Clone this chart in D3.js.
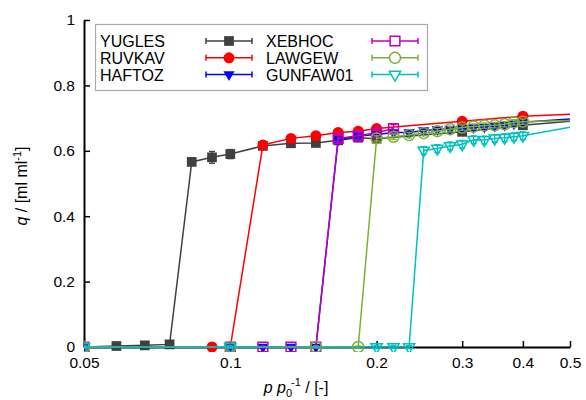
<!DOCTYPE html>
<html>
<head>
<meta charset="utf-8">
<script src="https://cdn.jsdelivr.net/npm/d3@7"></script>
<style>
  body { margin: 0; background: #fff; }
  svg { font-family: "Liberation Sans", Arial, sans-serif; }
  .axis text { font-size: 15.5px; fill: #000; }
</style>
</head>
<body>
<svg id="area" width="586" height="400"></svg>
<script>
// tick values
const xTicks = [0.05, 0.1, 0.2, 0.3, 0.4, 0.5];
const yTicks = [0, 0.2, 0.4, 0.6, 0.8, 1];

const seriesNames = ["YUGLES", "RUVKAV", "HAFTOZ", "XEBHOC", "LAWGEW", "GUNFAW01"];

// p/p0 values, loading q and error per series
const yuglesP   = [0.05, 0.0583, 0.0667, 0.075, 0.0833, 0.0917, 0.1, 0.1167, 0.1333, 0.15, 0.1667, 0.1833, 0.2, 0.3, 0.4];
const yuglesQ   = [0, 0.003, 0.005, 0.008, 0.566, 0.580, 0.590, 0.615, 0.623, 0.624, 0.632, 0.640, 0.637, 0.658, 0.678];
const yuglesErr = [0.003, 0.004, 0.004, 0.005, 0.010, 0.018, 0.014, 0.008, 0.006, 0.006, 0.006, 0.006, 0.006, 0.006, 0.006];

const ruvkavP   = [0.05, 0.0917, 0.1, 0.1167, 0.1333, 0.15, 0.1667, 0.1833, 0.2, 0.3, 0.4];
const ruvkavQ   = [0, 0, 0, 0.618, 0.638, 0.646, 0.656, 0.660, 0.668, 0.690, 0.706];
const ruvkavErr = [0.003, 0.003, 0.003, 0.012, 0.008, 0.006, 0.006, 0.006, 0.006, 0.006, 0.006];

const haftozP   = [0.05, 0.1, 0.1167, 0.1333, 0.15, 0.1667, 0.1833, 0.2, 0.2167, 0.2333, 0.25, 0.2667, 0.2833, 0.3, 0.3167, 0.3333, 0.35, 0.3667, 0.3833, 0.4];
const haftozQ   = [0, 0, 0, 0, 0, 0.634, 0.645, 0.650, 0.656, 0.656, 0.662, 0.665, 0.667, 0.669, 0.671, 0.673, 0.676, 0.679, 0.683, 0.687];
const haftozErr = [0.003, 0.003, 0.003, 0.003, 0.003, 0.008, 0.006, 0.006, 0.006, 0.006, 0.006, 0.006, 0.006, 0.006, 0.006, 0.006, 0.006, 0.006, 0.006, 0.006];

const xebhocP   = [0.05, 0.1, 0.1167, 0.1333, 0.15, 0.1667, 0.1833, 0.2, 0.2167];
const xebhocQ   = [0, 0, 0, 0, 0, 0.638, 0.646, 0.655, 0.668];
const xebhocErr = [0.003, 0.003, 0.003, 0.003, 0.003, 0.010, 0.010, 0.010, 0.012];

const lawgewP   = [0.05, 0.1, 0.15, 0.1833, 0.2, 0.2167, 0.2333, 0.25, 0.2667, 0.2833, 0.3, 0.3167, 0.3333, 0.35, 0.3667, 0.3833, 0.4];
const lawgewQ   = [0, 0, 0, 0, 0.638, 0.643, 0.648, 0.654, 0.660, 0.666, 0.671, 0.674, 0.677, 0.678, 0.681, 0.687, 0.689];
const lawgewErr = [0.003, 0.003, 0.003, 0.003, 0.008, 0.008, 0.008, 0.008, 0.008, 0.008, 0.008, 0.008, 0.008, 0.008, 0.008, 0.008, 0.008];

const gunfawP   = [0.05, 0.1, 0.2, 0.2167, 0.2333, 0.25, 0.2667, 0.2833, 0.3, 0.3167, 0.3333, 0.35, 0.3667, 0.3833, 0.4];
const gunfawQ   = [0, 0, 0, 0, 0, 0.601, 0.607, 0.615, 0.620, 0.634, 0.633, 0.638, 0.640, 0.643, 0.646];
const gunfawErr = [0.003, 0.003, 0.005, 0.005, 0.005, 0.012, 0.012, 0.012, 0.012, 0.012, 0.012, 0.012, 0.012, 0.012, 0.012];

// where each line ends at p/p0 = 0.5 (no marker there)
const endP = 0.5;
const endQ = [0.690, 0.712, 0.697, null, 0.693, 0.672];

const colors = ["#404040", "#ff0000", "#0000ff", "#c000c0", "#7cb032", "#00c0c0"];
const shapes = [d3.symbolSquare, d3.symbolCircle, d3.symbolTriangle, d3.symbolSquare, d3.symbolCircle, d3.symbolTriangle];
const filled = [true, true, true, false, false, false];
const flip   = [false, false, true, false, false, true];
const sizes  = [95, 95, 55, 95, 95, 55];

const allP = [yuglesP, ruvkavP, haftozP, xebhocP, lawgewP, gunfawP];
const allQ = [yuglesQ, ruvkavQ, haftozQ, xebhocQ, lawgewQ, gunfawQ];
const allE = [yuglesErr, ruvkavErr, haftozErr, xebhocErr, lawgewErr, gunfawErr];

let svg = d3.select("#area");

let x0 = 84, x1 = 570, y0 = 347, y1 = 20;
let xScale = d3.scaleLog().domain([0.05, 0.5]).range([x0, x1]);
let yScale = d3.scaleLinear().domain([0, 1]).range([y0, y1]);

svg.append("defs").append("clipPath").attr("id", "clip")
  .append("rect").attr("x", x0).attr("y", y1 - 5).attr("width", x1 - x0).attr("height", y0 - y1 + 10);

// axes
let bottomAxis = d3.axisBottom(xScale).tickValues(xTicks).tickFormat(d3.format("~g"))
  .tickSizeInner(-6).tickSizeOuter(0).tickPadding(8);
let leftAxis = d3.axisLeft(yScale).tickValues(yTicks).tickFormat(d3.format("~g"))
  .tickSizeInner(-6).tickSizeOuter(0).tickPadding(9);

let gx = svg.append("g").attr("class", "axis")
  .attr("transform", "translate(0," + y0 + ")").call(bottomAxis);
let gy = svg.append("g").attr("class", "axis")
  .attr("transform", "translate(" + x0 + ",0)").call(leftAxis);
[gx, gy].forEach(g => {
  g.select(".domain").attr("stroke", "#000").attr("stroke-width", 2);
  g.selectAll(".tick line").attr("stroke", "#000").attr("stroke-width", 1.5);
  g.selectAll("text").attr("font-family", null).attr("font-size", null);
});
gx.selectAll(".tick text").attr("dy", "0.85em");

// axis titles
let ylab = svg.append("text")
  .attr("transform", "translate(27,186) rotate(-90)")
  .attr("text-anchor", "middle").attr("font-size", 16);
ylab.append("tspan").attr("font-style", "italic").text("q");
ylab.append("tspan").text(" / [ml ml");
ylab.append("tspan").attr("font-size", 11).attr("dy", -6).text("-1");
ylab.append("tspan").attr("dy", 6).text("]");

let xlab = svg.append("text")
  .attr("x", 296).attr("y", 393)
  .attr("text-anchor", "middle").attr("font-size", 16);
xlab.append("tspan").attr("font-style", "italic").text("p p");
xlab.append("tspan").attr("font-size", 11).attr("dy", 4).text("0");
xlab.append("tspan").attr("font-size", 11).attr("dy", -11).attr("dx", -1).text("-1");
xlab.append("tspan").attr("dy", 7).text(" / [-]");

// series
let plot = svg.append("g").attr("clip-path", "url(#clip)");
let line = d3.line().x(d => xScale(d.p)).y(d => yScale(d.q));

function symbolPath(i) {
  return d3.symbol().type(shapes[i]).size(sizes[i])();
}

seriesNames.forEach((name, i) => {
  let pts = allP[i].map((p, k) => ({p: p, q: allQ[i][k], e: allE[i][k]}));
  let linePts = pts.slice();
  if (endQ[i] !== null) linePts.push({p: endP, q: endQ[i]});

  let g = plot.append("g");
  g.append("path").datum(linePts)
    .attr("d", line)
    .style("fill", "none")
    .style("stroke", colors[i])
    .style("stroke-width", 1.5);

  let eb = g.selectAll(".eb").data(pts).enter().append("g")
    .style("stroke", colors[i]).style("stroke-width", 1.3);
  eb.append("line")
    .attr("x1", d => xScale(d.p)).attr("x2", d => xScale(d.p))
    .attr("y1", d => yScale(d.q - d.e)).attr("y2", d => yScale(d.q + d.e));
  eb.append("line")
    .attr("x1", d => xScale(d.p) - 3).attr("x2", d => xScale(d.p) + 3)
    .attr("y1", d => yScale(d.q + d.e)).attr("y2", d => yScale(d.q + d.e));
  eb.append("line")
    .attr("x1", d => xScale(d.p) - 3).attr("x2", d => xScale(d.p) + 3)
    .attr("y1", d => yScale(d.q - d.e)).attr("y2", d => yScale(d.q - d.e));

  g.selectAll(".pt").data(pts).enter().append("path")
    .attr("d", symbolPath(i))
    .attr("transform", d => "translate(" + xScale(d.p) + "," + yScale(d.q) + ")" + (flip[i] ? " rotate(180)" : ""))
    .style("fill", filled[i] ? colors[i] : "none")
    .style("stroke", colors[i])
    .style("stroke-width", filled[i] ? 0 : 1.5);
});

// legend
let legend = svg.append("g");
legend.append("rect")
  .attr("x", 95.5).attr("y", 24.5).attr("width", 332).attr("height", 66)
  .style("fill", "#fff").style("stroke", "#aaa").style("stroke-width", 1.2);

seriesNames.forEach((name, i) => {
  let col = Math.floor(i / 3), row = i % 3;
  let tx = col === 0 ? 100 : 266;
  let sx = col === 0 ? 229 : 395;
  let cy = 41 + row * 16.8;
  legend.append("text").attr("x", tx).attr("y", cy + 6).attr("font-size", 16).text(name);
  let lg = legend.append("g").style("stroke", colors[i]).style("stroke-width", 1.5);
  lg.append("line").attr("x1", sx - 23).attr("x2", sx + 23).attr("y1", cy).attr("y2", cy);
  lg.append("line").attr("x1", sx - 23).attr("x2", sx - 23).attr("y1", cy - 3).attr("y2", cy + 3);
  lg.append("line").attr("x1", sx + 23).attr("x2", sx + 23).attr("y1", cy - 3).attr("y2", cy + 3);
  lg.append("path")
    .attr("d", symbolPath(i))
    .attr("transform", "translate(" + sx + "," + cy + ")" + (flip[i] ? " rotate(180)" : ""))
    .style("fill", filled[i] ? colors[i] : "#fff")
    .style("stroke-width", filled[i] ? 0 : 1.5);
});
</script>
</body>
</html>
